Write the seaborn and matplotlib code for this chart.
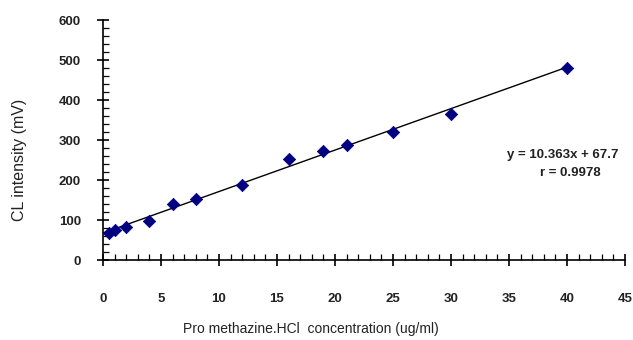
import numpy as np
import pandas as pd
import matplotlib
matplotlib.use("Agg")
import matplotlib.pyplot as plt
from matplotlib.ticker import MultipleLocator
import seaborn as sns

# Calibration data: promethazine HCl concentration vs chemiluminescence intensity
concentration = [0.5, 1, 2, 4, 6, 8, 12, 16, 19, 21, 25, 30, 40]
intensity = [67, 75, 82, 97, 140, 153, 187, 252, 273, 288, 321, 366, 481]

slope = 10.363
intercept = 67.7
r_value = 0.9978
fit_x = [0, 40]

sns.set_theme(style="white")
plt.rcParams["font.family"] = ["Liberation Sans", "DejaVu Sans"]

df = pd.DataFrame({"conc": concentration, "cl": intensity})
fit_df = pd.DataFrame({"conc": fit_x, "cl": [slope * x + intercept for x in fit_x]})

fig = plt.figure(figsize=(6.33, 3.40), dpi=100)
ax = fig.add_axes([0.1627, 0.235, 0.8245, 0.706])

sns.lineplot(data=fit_df, x="conc", y="cl", color="black", linewidth=1.0, ax=ax)
sns.scatterplot(data=df, x="conc", y="cl", marker="D", s=40, color="#000080",
                edgecolor="#000080", linewidth=0.5, ax=ax, zorder=3)

ax.set_xlim(0, 45)
ax.set_ylim(0, 600)
ax.xaxis.set_major_locator(MultipleLocator(5))
ax.xaxis.set_minor_locator(MultipleLocator(1))
ax.yaxis.set_major_locator(MultipleLocator(100))
ax.yaxis.set_minor_locator(MultipleLocator(20))

for side in ["top", "right"]:
    ax.spines[side].set_visible(False)
for side in ["left", "bottom"]:
    ax.spines[side].set_color("black")
    ax.spines[side].set_linewidth(1.2)

ax.xaxis.set_ticks_position("bottom")
ax.yaxis.set_ticks_position("left")
ax.tick_params(axis="both", which="major", direction="inout", length=8, width=1.2,
               color="black", labelsize=9.5, labelcolor="#222222")
ax.tick_params(axis="both", which="minor", direction="in", length=4, width=0.9,
               color="black", bottom=True, left=True)
ax.tick_params(axis="x", which="major", pad=20)
ax.tick_params(axis="y", which="major", pad=12)
for lbl in ax.get_xticklabels() + ax.get_yticklabels():
    lbl.set_fontweight("bold")

ax.set_xlabel("Pro methazine.HCl  concentration (ug/ml)", fontsize=10,
              color="#222222")
ax.set_ylabel("CL intensity (mV)", fontsize=11.5, color="#222222")
ax.xaxis.set_label_coords(0.398, -0.258)
ax.yaxis.set_label_coords(-0.146, 0.417)

ax.text(34.8, 262, f"y = {slope}x + {intercept}", fontsize=9.5, fontweight="bold",
        color="#222222", ha="left", va="center")
ax.text(40.3, 217, f"r = {r_value}", fontsize=9.5, fontweight="bold",
        color="#222222", ha="center", va="center")

fig.savefig("out.png", dpi=100)
